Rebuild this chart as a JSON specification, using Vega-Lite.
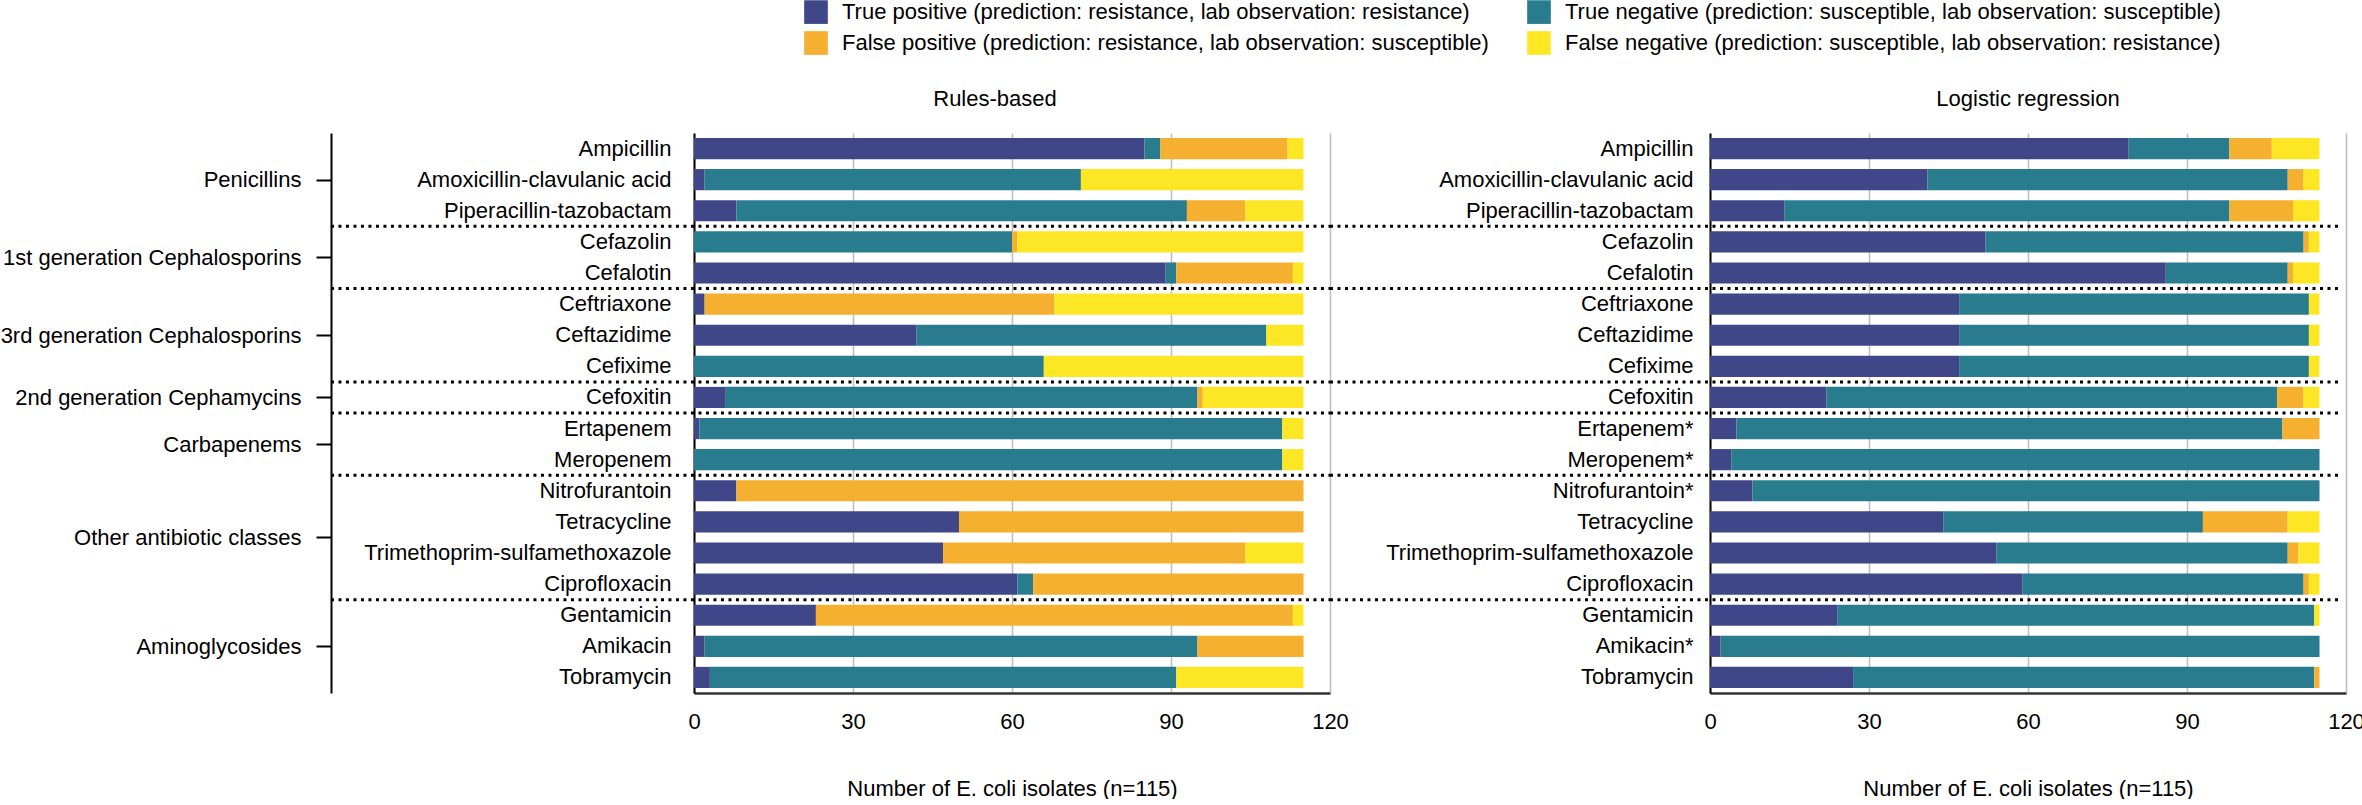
{
  "$schema": "https://vega.github.io/schema/vega-lite/v6.json",
  "padding": {"left": 0, "top": 0, "right": 0, "bottom": 0},
  "bounds": "flush",
  "spacing": 380,
  "config": {
    "font": "Liberation Sans",
    "view": {"stroke": null},
    "axis": {"labelFontSize": 22, "titleFontSize": 22, "labelColor": "black", "titleColor": "black", "titleFontWeight": "normal", "labelLimit": 0},
    "title": {"fontSize": 22, "fontWeight": "normal", "color": "black"},
    "legend": {"labelFontSize": 22, "labelColor": "black"}
  },
  "datasets": {
    "bars": [
      {"model": "Rules-based", "label": "Ampicillin", "TP": 85, "TN": 3, "FP": 24, "FN": 3},
      {"model": "Rules-based", "label": "Amoxicillin-clavulanic acid", "TP": 2, "TN": 71, "FP": 0, "FN": 42},
      {"model": "Rules-based", "label": "Piperacillin-tazobactam", "TP": 8, "TN": 85, "FP": 11, "FN": 11},
      {"model": "Rules-based", "label": "Cefazolin", "TP": 0, "TN": 60, "FP": 1, "FN": 54},
      {"model": "Rules-based", "label": "Cefalotin", "TP": 89, "TN": 2, "FP": 22, "FN": 2},
      {"model": "Rules-based", "label": "Ceftriaxone", "TP": 2, "TN": 0, "FP": 66, "FN": 47},
      {"model": "Rules-based", "label": "Ceftazidime", "TP": 42, "TN": 66, "FP": 0, "FN": 7},
      {"model": "Rules-based", "label": "Cefixime", "TP": 0, "TN": 66, "FP": 0, "FN": 49},
      {"model": "Rules-based", "label": "Cefoxitin", "TP": 6, "TN": 89, "FP": 1, "FN": 19},
      {"model": "Rules-based", "label": "Ertapenem", "TP": 1, "TN": 110, "FP": 0, "FN": 4},
      {"model": "Rules-based", "label": "Meropenem", "TP": 0, "TN": 111, "FP": 0, "FN": 4},
      {"model": "Rules-based", "label": "Nitrofurantoin", "TP": 8, "TN": 0, "FP": 107, "FN": 0},
      {"model": "Rules-based", "label": "Tetracycline", "TP": 50, "TN": 0, "FP": 65, "FN": 0},
      {"model": "Rules-based", "label": "Trimethoprim-sulfamethoxazole", "TP": 47, "TN": 0, "FP": 57, "FN": 11},
      {"model": "Rules-based", "label": "Ciprofloxacin", "TP": 61, "TN": 3, "FP": 51, "FN": 0},
      {"model": "Rules-based", "label": "Gentamicin", "TP": 23, "TN": 0, "FP": 90, "FN": 2},
      {"model": "Rules-based", "label": "Amikacin", "TP": 2, "TN": 93, "FP": 20, "FN": 0},
      {"model": "Rules-based", "label": "Tobramycin", "TP": 3, "TN": 88, "FP": 0, "FN": 24},
      {"model": "Logistic regression", "label": "Ampicillin", "TP": 79, "TN": 19, "FP": 8, "FN": 9},
      {"model": "Logistic regression", "label": "Amoxicillin-clavulanic acid", "TP": 41, "TN": 68, "FP": 3, "FN": 3},
      {"model": "Logistic regression", "label": "Piperacillin-tazobactam", "TP": 14, "TN": 84, "FP": 12, "FN": 5},
      {"model": "Logistic regression", "label": "Cefazolin", "TP": 52, "TN": 60, "FP": 1, "FN": 2},
      {"model": "Logistic regression", "label": "Cefalotin", "TP": 86, "TN": 23, "FP": 1, "FN": 5},
      {"model": "Logistic regression", "label": "Ceftriaxone", "TP": 47, "TN": 66, "FP": 0, "FN": 2},
      {"model": "Logistic regression", "label": "Ceftazidime", "TP": 47, "TN": 66, "FP": 0, "FN": 2},
      {"model": "Logistic regression", "label": "Cefixime", "TP": 47, "TN": 66, "FP": 0, "FN": 2},
      {"model": "Logistic regression", "label": "Cefoxitin", "TP": 22, "TN": 85, "FP": 5, "FN": 3},
      {"model": "Logistic regression", "label": "Ertapenem*", "TP": 5, "TN": 103, "FP": 7, "FN": 0},
      {"model": "Logistic regression", "label": "Meropenem*", "TP": 4, "TN": 111, "FP": 0, "FN": 0},
      {"model": "Logistic regression", "label": "Nitrofurantoin*", "TP": 8, "TN": 107, "FP": 0, "FN": 0},
      {"model": "Logistic regression", "label": "Tetracycline", "TP": 44, "TN": 49, "FP": 16, "FN": 6},
      {"model": "Logistic regression", "label": "Trimethoprim-sulfamethoxazole", "TP": 54, "TN": 55, "FP": 2, "FN": 4},
      {"model": "Logistic regression", "label": "Ciprofloxacin", "TP": 59, "TN": 53, "FP": 1, "FN": 2},
      {"model": "Logistic regression", "label": "Gentamicin", "TP": 24, "TN": 90, "FP": 0, "FN": 1},
      {"model": "Logistic regression", "label": "Amikacin*", "TP": 2, "TN": 113, "FP": 0, "FN": 0},
      {"model": "Logistic regression", "label": "Tobramycin", "TP": 27, "TN": 87, "FP": 1, "FN": 0}
    ],
    "groups": [
      {"group": "Penicillins", "start": 0, "mid": 1.5},
      {"group": "1st generation Cephalosporins", "start": 3, "mid": 4},
      {"group": "3rd generation Cephalosporins", "start": 5, "mid": 6.5},
      {"group": "2nd generation Cephamycins", "start": 8, "mid": 8.5},
      {"group": "Carbapenems", "start": 9, "mid": 10},
      {"group": "Other antibiotic classes", "start": 11, "mid": 13},
      {"group": "Aminoglycosides", "start": 15, "mid": 16.5}
    ]
  },
  "hconcat": [
    {
      "width": 636,
      "height": 560,
      "title": {"text": "Rules-based", "frame": "group", "anchor": "middle", "dx": -17, "offset": 22},
      "layer": [
        {
          "data": {"name": "bars"},
          "transform": [
            {"filter": "datum.model == 'Rules-based'"},
            {"fold": ["TP", "TN", "FP", "FN"], "as": ["outcome", "n"]}
          ],
          "mark": {"type": "bar"},
          "encoding": {
            "y": {"field": "label", "type": "nominal", "sort": null,
                  "scale": {"paddingInner": 0.32, "paddingOuter": 0.16},
                  "axis": {"title": null, "orient": "left", "ticks": false, "labelPadding": 23, "domainColor": "black", "domainWidth": 2, "grid": false}},
            "x": {"field": "n", "type": "quantitative", "stack": "zero",
                  "scale": {"domain": [0, 120], "nice": false},
                  "axis": {"values": [0, 30, 60, 90, 120], "title": "Number of E. coli isolates (n=115)", "ticks": false, "labelPadding": 18, "labelFlush": false, "domainColor": "#333333", "domainWidth": 2.5, "gridColor": "#bdbdbd", "gridWidth": 1.5, "titlePadding": 46}},
            "order": {"field": "outcome", "sort": "descending"},
            "color": {"field": "outcome", "type": "nominal",
                      "scale": {"domain": ["TP", "TN", "FP", "FN"], "range": ["#3f4788", "#287c8e", "#f5b02f", "#fde725"]},
                      "legend": {"orient": "none", "legendX": 110, "legendY": -133, "columns": 2, "direction": "horizontal", "title": null, "symbolType": "square", "symbolSize": 560, "symbolStrokeWidth": 0, "columnPadding": 38, "rowPadding": 7, "labelLimit": 0, "labelOffset": 14,
                                 "labelExpr": "datum.value == 'TP' ? 'True positive (prediction: resistance, lab observation: resistance)' : datum.value == 'TN' ? 'True negative (prediction: susceptible, lab observation: susceptible)' : datum.value == 'FP' ? 'False positive (prediction: resistance, lab observation: susceptible)' : 'False negative (prediction: susceptible, lab observation: resistance)'"}}
          }
        },
        {
          "data": {"name": "groups"},
          "transform": [{"filter": "datum.start > 0"}],
          "mark": {"type": "rule", "strokeDash": [3, 4.5], "strokeWidth": 3, "color": "black"},
          "encoding": {
            "y": {"field": "start", "type": "quantitative",
                  "scale": {"domain": [0, 18], "reverse": true, "nice": false, "zero": false},
                  "axis": {"orient": "left", "offset": 363, "values": [1.5, 4, 6.5, 8.5, 10, 13, 16.5], "title": null, "grid": false, "tickSize": 15, "tickWidth": 2, "tickColor": "black", "domainColor": "black", "domainWidth": 2, "labelPadding": 15, "labelOverlap": false,
                           "labelExpr": "datum.value == 1.5 ? 'Penicillins' : datum.value == 4 ? '1st generation Cephalosporins' : datum.value == 6.5 ? '3rd generation Cephalosporins' : datum.value == 8.5 ? '2nd generation Cephamycins' : datum.value == 10 ? 'Carbapenems' : datum.value == 13 ? 'Other antibiotic classes' : 'Aminoglycosides'"}},
            "x": {"datum": -68.5},
            "x2": {"datum": 120}
          }
        }
      ],
      "resolve": {"scale": {"y": "independent"}, "axis": {"y": "independent"}}
    },
    {
      "width": 636,
      "height": 560,
      "title": {"text": "Logistic regression", "frame": "group", "anchor": "middle", "offset": 22},
      "layer": [
        {
          "data": {"name": "bars"},
          "transform": [
            {"filter": "datum.model == 'Logistic regression'"},
            {"fold": ["TP", "TN", "FP", "FN"], "as": ["outcome", "n"]}
          ],
          "mark": {"type": "bar"},
          "encoding": {
            "y": {"field": "label", "type": "nominal", "sort": null,
                  "scale": {"paddingInner": 0.32, "paddingOuter": 0.16},
                  "axis": {"title": null, "orient": "left", "ticks": false, "labelPadding": 17, "domainColor": "black", "domainWidth": 2, "grid": false}},
            "x": {"field": "n", "type": "quantitative", "stack": "zero",
                  "scale": {"domain": [0, 120], "nice": false},
                  "axis": {"values": [0, 30, 60, 90, 120], "title": "Number of E. coli isolates (n=115)", "ticks": false, "labelPadding": 18, "labelFlush": false, "domainColor": "#333333", "domainWidth": 2.5, "gridColor": "#bdbdbd", "gridWidth": 1.5, "titlePadding": 46}},
            "order": {"field": "outcome", "sort": "descending"},
            "color": {"field": "outcome", "type": "nominal",
                      "scale": {"domain": ["TP", "TN", "FP", "FN"], "range": ["#3f4788", "#287c8e", "#f5b02f", "#fde725"]},
                      "legend": {"orient": "none", "legendX": 110, "legendY": -133, "columns": 2, "direction": "horizontal", "title": null, "symbolType": "square", "symbolSize": 560, "symbolStrokeWidth": 0, "columnPadding": 38, "rowPadding": 7, "labelLimit": 0, "labelOffset": 14,
                                 "labelExpr": "datum.value == 'TP' ? 'True positive (prediction: resistance, lab observation: resistance)' : datum.value == 'TN' ? 'True negative (prediction: susceptible, lab observation: susceptible)' : datum.value == 'FP' ? 'False positive (prediction: resistance, lab observation: susceptible)' : 'False negative (prediction: susceptible, lab observation: resistance)'"}}
          }
        },
        {
          "data": {"name": "groups"},
          "transform": [{"filter": "datum.start > 0"}],
          "mark": {"type": "rule", "strokeDash": [3, 4.5], "strokeWidth": 3, "color": "black"},
          "encoding": {
            "y": {"field": "start", "type": "quantitative",
                  "scale": {"domain": [0, 18], "reverse": true, "nice": false, "zero": false},
                  "axis": null},
            "x": {"datum": -71.7},
            "x2": {"datum": 118.5}
          }
        }
      ],
      "resolve": {"scale": {"y": "independent"}, "axis": {"y": "independent"}}
    }
  ],
  "resolve": {"scale": {"color": "shared"}}
}
